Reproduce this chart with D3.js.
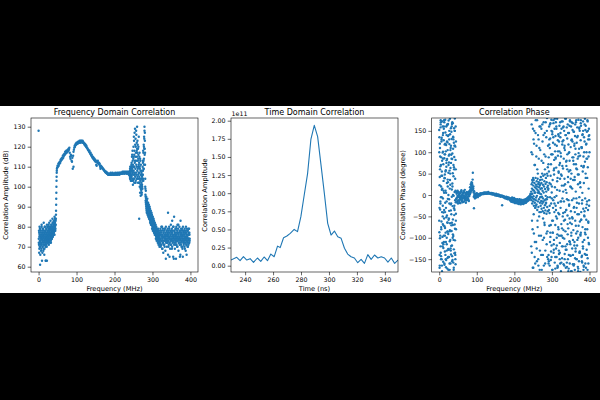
<!DOCTYPE html>
<html><head><meta charset="utf-8">
<script src="https://cdn.jsdelivr.net/npm/d3@7"></script>
<style>
body{margin:0;background:#000}
svg{display:block}
text{font-family:"DejaVu Sans",sans-serif;fill:#000}
</style>
</head><body>
<svg id="c" width="600" height="400"></svg>
<script>
// ---------------- DATA ----------------
// Panel 1: frequency domain correlation amplitude (dB), segments on FFT bin grids
const fdAmpLowA = [74,71,77,69,76,72,79,73,70,75,78,72,68,76,74,80,71,75,73,77,70,74,79,72,76,69,75,78,73,71,77,74,80,72,75,70,78,74,76,73,79,71,75,77,74,80,73,76,72,78,75,74,81,73,77,76,79,74,78,72,80,76,75,79,73,77,81,76,78,74,80,77,79,82,75,78,76,81,79,77,83,78,80,76,82,79,84,78,81,83];
const fdAmpLowB = [72,78,67,75,80,70,73,76,66,79,74,71,77,69,75,81,72,63,78,74,70,76,73,79,68,75,82,71,77,74,69,76,80,73,78,71,75,63,77,72,79,74,70,81,76,73,78,75,72,80,77,74,79,71,76,82,73,78,75,80,74,77,83,76,72,79,75,81,78,74,80,77,84,75,79,82,76,80,78,83,77,81,79,85,78,82,80,84,79,81];
const fdAmpRise = [84,86,88,91,94,97,100,103,105,107,108,109];
const fdAmpMain = [109.5,110.5,110,111.5,110.5,112,111.5,112.5,112,113.5,
113,114,113.5,114.5,114,115.5,114.5,116,115.5,116.5,
116,117.5,116.5,117,118,117,118,117.5,118.5,118,
119,118.5,119.5,117,115,114,116,115.5,113,112.5,
114.5,109,115.5,117.5,118.5,119.5,120.5,120,121,121.5,
121,122,121.5,122,121.5,122.5,122,122.5,122,123,
122.5,122,123,122.5,123,122.5,122,123,122.5,122,
122,121.5,121,121.5,120.5,121,120,120.5,119.5,119.5,
119,118.5,118.5,118,117.5,118,117,116.5,117,116,
115.5,116,115,114.5,115,114,114.5,113.5,114,113,
113.5,112.5,113,111,110.5,112.5,112,113,112,111.5,
112,111,111.5,110,109,110.5,110,110,109.5,109.5,
109,109,108.5,108.5,108,108,107.5,107.5,107,107.5,
107,106.5,107,106.5,106,106.5,106,106.5,106,106.5,
106,107,106,106.5,106,106.5,107,106,106.5,106,
106.5,106,106.5,107,106,106.5,106.5,106,107,106.5,
106,106.5,107,106.5,106,107,106.5,107,106.5,107,
106.5,107,107.5,106.5,107,107.5,107,106.5,107.5,107,
107,107.5,106.5,107,107.5,107,106.5,107.5,107,106,
107,106];
const fdAmpMidA = [107,105,109,104,108,106,110,105,108,103,112,106,115,104,109,118,107,111,103,114,120,108,125,104,116,110,127,106,113,121,109,124,103,117,128,111,106,122,115,119,108,123,104,113,119,106,116,110,125,102,112,105,117,100,109,114,103,108,99,111,104,98,107,101,97,105,100,103,110,106,112,104,117,109,121,114,125,119,128,116,123,111,100,96,93,98];
const fdAmpMidB = [106,108,104,110,105,107,103,109,106,111,105,110,103,116,108,107,113,101,110,106,104,115,110,123,102,118,107,112,129,105,115,102,120,107,113,126,104,118,110,130,117,105,121,109,102,114,120,107,111,104,107,115,102,110,104,97,113,101,106,100,99,106,102,96,108,101,104,99,106,113,108,118,103,113,109,120,111,124,130,119,127,117,104,99,95,92];
const fdAmpFallA = [94,90,92,88,93,89,91,87,92,88,90,86,91,87,89,85,90,86,88,84,87,83,88,84,86,82,87,83,85,81,86,81,84,80,85,82,83,79,84,80,82,78,83,79,81,77,82,78,80,76,81,76,79,75,80,77,78,74,79,75,78,74,77,73,79,75,76,72,78,74,77,73,76,71];
const fdAmpFallB = [91,95,89,93,87,92,90,94,86,91,88,92,85,89,87,91,84,88,86,90,85,89,82,86,84,88,81,85,83,87,82,86,79,84,81,85,78,83,80,84,79,83,77,81,78,82,76,80,77,81,77,80,74,78,76,79,73,77,75,78,75,78,72,76,74,77,71,75,73,76,74,70,75,72];
const fdAmpHighA = [76,72,79,74,70,77,73,80,71,75,78,69,74,76,72,79,73,67,77,75,71,78,74,76,70,79,73,75,68,77,74,80,72,76,73,78,70,75,77,72,79,74,66,76,73,78,71,75,80,74,72,77,75,69,78,73,76,81,74,71,77,73,79,75,70,76,72,78,74,65,76,80,73,75,71,78,74,77,69,76,73,79,75,72,77,74,80,71,76,73,78,70,75,77,73,79,74,68,76,72,77,74,80,71,75,73,78,66,76,74,72,79,75,70,77,73,78,74,69,76,75,80,72,77,74,71,78,73,76,70,79,74,77,72,75,68,78,73,76,71,77,74,79,72,75,70,78,73,76,74,71,77,74,79,72,76,73];
const fdAmpHighB = [74,78,71,76,73,80,69,75,72,77,75,71,79,73,76,64,74,78,72,76,73,77,70,75,79,72,74,76,71,78,74,69,77,73,80,75,64,72,78,74,76,71,79,73,75,70,77,74,81,72,75,78,65,74,77,71,76,73,79,70,76,73,78,72,75,69,77,74,80,71,75,73,78,70,76,74,72,77,74];
const fdOutlierFreq = [0,4,10,15,19,22,92,265,269,341,357,374,352,366,345,362,380,390,395];
const fdOutlierAmp  = [128,61,67,66,63,63,110,84,95.5,87,85,83,83,81,65,64,65,66,79];
// segment grids: [first bin (MHz), bin step (MHz), values]
const fdSegments = [[0.5,0.5,fdAmpLowA],[0.5,0.5,fdAmpLowB],[45.5,0.25,fdAmpRise],[49,1,fdAmpMain],
  [240,0.5,fdAmpMidA],[240,0.5,fdAmpMidB],[283,0.5,fdAmpFallA],[283,0.5,fdAmpFallB],
  [320,0.5,fdAmpHighA],[320.25,1,fdAmpHighB]];

// Panel 2: time domain correlation (units of 1e11)
const tdTime = [229.9,234.0,236.4,238.8,241.2,243.6,246.0,248.8,251.2,253.6,256.0,258.4,260.8,263.2,265.1,267.5,269.9,272.3,275.1,277.5,279.9,282.3,284.7,287.1,289.5,291.9,294.3,296.7,299.1,301.5,303.9,306.3,308.7,311.1,313.4,315.8,318.2,320.6,323.0,325.4,327.8,330.2,332.6,335.0,337.4,339.8,342.2,344.6,347.0,349.4];
const tdAmp = [0.078,0.115,0.07,0.124,0.078,0.097,0.046,0.106,0.06,0.12,0.069,0.16,0.124,0.27,0.25,0.386,0.41,0.446,0.50,0.47,0.676,0.975,1.27,1.747,1.935,1.78,1.39,0.998,0.584,0.423,0.478,0.40,0.377,0.24,0.16,0.124,0.106,0.041,0.087,0.032,0.152,0.087,0.147,0.106,0.124,0.106,0.05,0.106,0.032,0.078];

// Panel 3: correlation phase (degree)
const phLowA = [152,-87,23,-165,110,-34,67,-120,175,-5,-143,88,-62,134,12,-178,45,-98,160,-25,101,-156,72,-41,128,-110,5,170,-73,39,-132,95,-18,146,-88,58,-169,117,-52,81,-115,28,163,-64,-147,105,-9,138,-91,52,174,-128,76,-37,119,-160,15,-82,142,-105,63,-22,156,-139,94,-71,131,-4,-118,84,27,-152,168,-57,108,-96,44,-175,122,-31,89,-136,7,150,-79,-12,113,-162,60,-44,8];
const phLowB = [-60,135,-170,42,-101,90,-15,158,-135,70,20,-80,125,-150,55,-40,172,-112,99,-68,-8,145,-124,33,-95,160,-55,86,-163,118,48,-77,176,-140,10,102,-30,-152,66,140,-100,-48,84,-172,123,36,-86,166,-126,0,-58,92,-145,130,-20,57,-108,178,-66,24,-160,110,-36,75,-119,148,-84,13,166,-143,97,-26,51,-92,136,-158,70,-2,-127,156,-47,115,-69,179,-106,38,-150,82,-17,125,-10];
const phLowC = [100,-140,60,-20,170,-75,130,-165,15,-50,85,-115,155,-35,40,-95,120,-150,5,75,-130,165,-65,30,-175,140,-10,95,-85,50,-125,115,-45,160,-155,20,-70,135,-105,65,-25,150,-135,10,-60];
const phLowD = [-30,120,-95,165,-150,45,-5,80,-120,140,-70,10,175,-160,95,-40,55,-110,160,-15,125,-85,20,-145,70,-55,150,-175,35,105,-130,-20,85,-65,170,-100,0,130,-170,60,-35,115,-140,160,-80];
const phMain = [-8,3,-15,-2,6,-12,-4,2,-18,-6,4,-10,-3,8,-14,-5,1,-9,5,-16,-2,-7,6,-11,-4,3,-13,-1,7,-8,-5,2,-10,4,-3,8,1,12,5,15,22,10,28,18,52,15,6,-31,-2,3,-4,2,-6,0,-3,3,-1,-5,2,0,-2,1,3,-1,2,4,1,3,2,4,3,5,2,4,6,3,5,4,6,3,4,6,3,5,4,7,5,3,5,4,5,3,4,2,5,3,1,4,2,3,1,3,0,2,-1,1,3,0,-2,1,0,-2,1,-1,-3,0,-2,-1,-4,-2,-3,-1,-24,-4,-2,-5,-3,-6,-4,-7,-5,-8,-6,-4,-9,-7,-5,-10,-8,-6,-9,-7,-11,-8,-10,-12,-9,-11,-8,-13,-10,-12,-9,-14,-11,-13,-10,-15,-12,-14,-11,-16,-13,-10,-15,-12,-17,-14,-11,-16,-13,-18,-15,-12,-19,-16,-14,-20,-17,-13,-18,-15,-12,-17,-14,-10,-16,-13,-9,-14,-11,-7,-12,-5,-9,-3,-8,0,-4,2];
const phMainB = [5,-17,-6,10,-20,-3,7,-14,0,-9,-19,6,-7,11,-12,-1,-17,3,-6,9,-15,-4,12,-9,1,-18,5,-6,-12,2,-9,6,-2,-14,9,3,18,7,25,13,30,19,24,36,12,20,-4,9,1,-8,3,-6,1,-2,4];
const phMainC = [-14,-8,-16,-10,-6,-15,-9,-17,-11,-7,-16,-12,-19,-9,-14,-18,-11,-15,-20,-13,-17,-12,-21,-15,-10,-19,-14,-22,-16,-11,-20,-15,-18,-12,-21,-16,-11,-19,-14,-17,-10,-18,-13,-8,-15,-11,-6,-13,-9,-4,-10,-2,-7,3,-5];
const phTransA = [8,-12,25,-5,15,-20,3,30,-8,12,-15,22,-3,35,-25,10,-10,28,5,-18,18,-30,6,40,-12,24,-6,15,-22,32,-2,20,-35,12,38,-15,5,26,-28,9,30,-10,18,-40,4,22,-18,35,-5,14,-25,42,2,-14,28,-32,16,-4,36,-20,10,-38,24,-8,45,-16,6,-30,20,-42,32,-12,48,-24,14,-36,26,-2,40,-18,8,-44,30,-10,50,-28,18,-5,-38,22,12];
const phTransB = [-120,165,-60,95,-170,40,130,-90,150,-145,70,-30,175,-110,115,-155,60,-75,140,-165,85,-50,160,-130,105,-5,-95,155,-175,50,125,-140,75,170,-100,-65,145,-160,90,-20,135,-115,180,-85,65,-150];
const phTransC = [100,-135,35,-80,155,-170,-45,120,70,-110,-160,145,-25,90,-125,175,-60,50,-150,130,-95,110,-175,25,160,-40,-140,80,-15,165,-105,-55,140,-165,95,-70,60,-130,170,-10,-90,150,-145,45,115];
const phHighA = [15,-140,88,-35,160,-72,28,-165,110,-5,132,-98,45,-152,72,-20,176,-118,6,95,-60,148,-175,35,-88,122,-12,168,-135,58,-105,82,-40,155,-158,18,102,-70,138,-25,170,-125,64,-2,-145,115,-55,178,-92,40,-168,92,-18,142,-80,52,-130,125,-45,162,10,-112,75,-160,135,-30,98,-178,48,-68,155,-95,22,-148,118,-8,172,-120,62,-42,128,-162,85,-15,150,-102,38,-138,105,-58,178,-85,12,-170,140,-35,68,-128,158,-10,-115,95,-48,165,-150,30,-78,118,-172,55,145,-22,-108,80,-160,175,-65,20,-142,112,-38,160,-95,50,-178,130,-12,-125,88,-55,168,-140,35,-82,148,-165,72,-28,115,-110,42,-175,138,-60,95,-132,8,170,-90,62,-150,122,-18,-118,158,-45,85,-168,25,-100,176,-72,48,-155,108,-5,-135,150,-62,92,-180,18,128,-88,162,-40,68,-145,110,-20,-158,140,-75,55,-120,172,-32,90,-165,28,135,-105,-50,165,-138,78,-8,152,-92,40,-170,118,-58,100,-128,148,-15,-80,175,-148,65,-35,130,-160,90,-112,155,-25,140];
const phHighB = [-160,55,130,-25,-110,168,-70,95,-145,20,142,-88,-30,175,-128,62,-5,118,-172,85,-50,155,-118,32,-165,102,-42,138,-95,70,-135,170,-15,90,-158,45,-78,125,-100,8,160,-60,110,-150,25,-120,178,-35,80,-168,60,-92,145,-12,-140,100,-55,172,-115,38,-178,128,-68,15,152,-105,88,-30,-162,120,-40,165,-125,72,-8,-150,135,-85,48,-172,98,-20,158,-132,30,-95,175,-58,112,-142,5,-110,150,-175,68,-48,125,-88,-160,162,-30,85,-140,40,172,-100,-65,138,-12,100];
const phHighC = [72,-155,118,-42,165,-88,25,-132,150,-8,-175,95,-60,135,-115,48,-20,178,-145,88,-35,160,-100,12,-170,128,-75,55,-138,102,-150,38,145,-95,-15,172,-120,68,-50,158,-82,22,-165,115,-40,140,-128,78,5,-158,132,-68,42,-178,98,-25,162,-110,58,-142,18,-88,170,-52,125,-162,80,-8,148,-118,35,-148,108,-72,175,-30,60,-105,138,-178,90,-45,155,-135,28,-92,168,-58,112,-155,-12,142,-125,65,-168,100,-38,178,-80,50,-140,120,-22,85,-175,150,-62,15,-115,130];
const phSegments = [[0,0.5,phLowA],[0,0.5,phLowB],[0.25,1,phLowC],[0.75,1,phLowD],[45.5,1,phMain],[46,1,phMainB],[190,1,phMainC],
  [245,0.5,phTransA],[245,1,phTransB],[245.5,1,phTransC],[290.5,0.5,phHighA],[291,1,phHighB],[290.75,1,phHighC]];

// tick values
const fdXTicks = [0,100,200,300,400];
const fdYTicks = [60,70,80,90,100,110,120,130];
const tdXTicks = [240,260,280,300,320,340];
const tdYTicks = [0,0.25,0.5,0.75,1.0,1.25,1.5,1.75,2.0];
const phXTicks = [0,100,200,300,400];
const phYTicks = [-150,-100,-50,0,50,100,150];

// ---------------- DRAW ----------------
const C = "#1f77b4";
const svg = d3.select("#c");
svg.append("rect").attr("width",600).attr("height",400).attr("fill","#000");
svg.append("rect").attr("x",0).attr("y",106).attr("width",600).attr("height",187).attr("fill","#fff");

const TOP = 118, BOT = 272, TICK_FS = 6.3;

function segPoints(segs){
  const pts = [];
  segs.forEach(([s,st,vals]) => vals.forEach((v,i) => pts.push([s + i*st, v])));
  return pts;
}

function panel(cfg){
  const g = svg.append("g");
  const x = d3.scaleLinear().domain(cfg.xd).range([cfg.l, cfg.r]);
  const y = d3.scaleLinear().domain(cfg.yd).range([BOT, TOP]);
  const id = "clip" + cfg.id;
  svg.append("clipPath").attr("id", id).append("rect")
    .attr("x", cfg.l).attr("y", TOP).attr("width", cfg.r - cfg.l).attr("height", BOT - TOP);
  const plot = g.append("g").attr("clip-path", `url(#${id})`);
  cfg.draw(plot, x, y);

  const xa = g.append("g").attr("transform", `translate(0,${BOT})`)
    .call(d3.axisBottom(x).tickValues(cfg.xt).tickFormat(cfg.xf || d3.format("d")).tickSize(3.3).tickPadding(2).tickSizeOuter(0));
  const ya = g.append("g").attr("transform", `translate(${cfg.l},0)`)
    .call(d3.axisLeft(y).tickValues(cfg.yt).tickFormat(cfg.yf || d3.format("d")).tickSize(3.3).tickPadding(2.2).tickSizeOuter(0));
  [xa, ya].forEach(a => {
    a.select(".domain").remove();
    a.selectAll("line").attr("stroke", "#000").attr("stroke-width", 0.6);
    a.selectAll("text").attr("font-size", TICK_FS).attr("font-family", '"DejaVu Sans",sans-serif').attr("fill", "#000");
  });
  g.append("rect").attr("x", cfg.l).attr("y", TOP).attr("width", cfg.r - cfg.l).attr("height", BOT - TOP)
    .attr("fill", "none").attr("stroke", "#000").attr("stroke-width", 0.6);
  g.append("text").attr("x", (cfg.l + cfg.r) / 2).attr("y", 115.3).attr("text-anchor", "middle")
    .attr("font-size", 8).text(cfg.title);
  g.append("text").attr("x", (cfg.l + cfg.r) / 2).attr("y", 291.2).attr("text-anchor", "middle")
    .attr("font-size", 6.7).text(cfg.xl);
  g.append("text").attr("transform", `translate(${cfg.ylx},${(TOP + BOT) / 2}) rotate(-90)`)
    .attr("text-anchor", "middle").attr("font-size", 6.7).text(cfg.yl);
  if (cfg.offset) g.append("text").attr("x", cfg.l + 0.5).attr("y", 115.6).attr("font-size", TICK_FS).text(cfg.offset);
}

function scatter(pts){
  return (plot, x, y) => {
    plot.selectAll("circle").data(pts).join("circle")
      .attr("cx", d => x(d[0])).attr("cy", d => y(d[1])).attr("r", 1.2).attr("fill", C);
  };
}

const fdPts = segPoints(fdSegments).concat(fdOutlierFreq.map((f,i) => [f, fdOutlierAmp[i]]));
panel({id:1, l:31, r:198, xd:[-20,420], yd:[57.35,134.35], xt:fdXTicks, yt:fdYTicks,
  title:"Frequency Domain Correlation", xl:"Frequency (MHz)", yl:"Correlation Amplitude (dB)", ylx:8.4,
  draw: scatter(fdPts)});

panel({id:2, l:231, r:398, xd:[229.9,349.4], yd:[-0.087,2.037], xt:tdXTicks, yt:tdYTicks, yf:d3.format(".2f"),
  title:"Time Domain Correlation", xl:"Time (ns)", yl:"Correlation Amplitude", ylx:207.4, offset:"1e11",
  draw: (plot, x, y) => {
    const line = d3.line().x((d,i) => x(tdTime[i])).y(d => y(d));
    plot.append("path").datum(tdAmp).attr("d", line).attr("fill", "none").attr("stroke", C)
      .attr("stroke-width", 1.1).attr("stroke-linejoin", "round");
  }});

panel({id:3, l:431.7, r:597, xd:[-20,420], yd:[-180,180], xt:phXTicks, yt:phYTicks,
  title:"Correlation Phase", xl:"Frequency (MHz)", yl:"Correlation Phase (degree)", ylx:405,
  draw: scatter(segPoints(phSegments))});
</script>
</body></html>
